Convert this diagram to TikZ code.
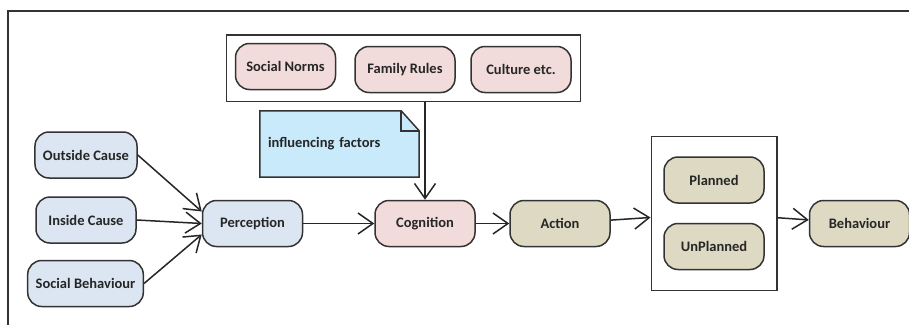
\documentclass[tikz,border=0pt]{standalone}
\usepackage{fontspec}
\setmainfont{Carlito}
\usetikzlibrary{arrows.meta, positioning, fit, calc, backgrounds}
\definecolor{causeblue}{HTML}{DCE6F2}
\definecolor{normpink}{HTML}{F2DCDB}
\definecolor{actolive}{HTML}{DDD9C3}
\definecolor{notecyan}{HTML}{C9EAFB}
\definecolor{edgegray}{HTML}{333333}
\tikzset{
  stage/.style={draw=edgegray, line width=1.5pt, rounded corners=14pt, fill=#1, minimum height=46pt,
    minimum width=100pt, inner xsep=8pt, font=\fontsize{14.5}{16}\selectfont\bfseries, text=black!85},
  group/.style={draw=edgegray, line width=1.5pt},
  note/.style={minimum width=159pt, minimum height=66pt, text width=143pt, inner xsep=8pt, align=left,
    font=\fontsize{14.5}{16}\selectfont\bfseries, text=black!85},
  arr/.style={-{Straight Barb[length=15pt, width=21pt]}, line width=1.5pt, draw=black!85},
}

\begin{document}
\begin{tikzpicture}[x=1pt, y=1pt]
    \useasboundingbox (0,0) rectangle (909,325);
    \draw[line width=1.5pt, edgegray] (909,314) -- (8,314) -- (8,0);
    % causes
    \node[stage=causeblue] (outside) at (86,170) {Outside Cause};
    \node[stage=causeblue] (inside) at (86,105) {Inside Cause};
    \node[stage=causeblue] (social) at (85.5,41.5) {Social Behaviour};
    \node[stage=causeblue] (perception) at (252.5,101.5) {Perception};
    % influencing factors
    \node[stage=normpink] (norms) at (285.5,258.5) {Social Norms};
    \node[stage=normpink] (rules) at (405,255.5) {Family Rules};
    \node[stage=normpink] (culture) at (521,255.5) {Culture etc.};
    \node[group, fit=(norms)(rules)(culture), inner xsep=8.5pt, inner ysep=8pt] (factors) {};
    \node[note] (infl) at (339.5,181) {influencing factors};
    \begin{scope}[on background layer]
      \draw[edgegray, line width=1.5pt, fill=notecyan] (infl.south west) -- (infl.north west)
        -- ([xshift=-18pt]infl.north east) -- ([yshift=-20pt]infl.north east) -- (infl.south east) -- cycle;
      \draw[edgegray, line width=1.5pt] ([xshift=-18pt]infl.north east) |- ([yshift=-20pt]infl.north east);
    \end{scope}
    % chain
    \node[stage=normpink] (cognition) at (425,101.5) {Cognition};
    \node[stage=actolive] (action) at (560,101.5) {Action};
    \node[stage=actolive] (planned) at (714,145) {Planned};
    \node[stage=actolive] (unplanned) at (714,78.5) {UnPlanned};
    \node[group, fit=(planned)(unplanned), inner xsep=12pt, inner ysep=20pt] (choice) {};
    \node[stage=actolive] (behaviour) at (859.5,101.5) {Behaviour};
    % arrows
    \draw[arr] (outside.east) -- ([yshift=12pt]perception.west);
    \draw[arr] (inside.east) -- (perception.west);
    \draw[arr] (social.east) -- ([yshift=-11pt]perception.west);
    \draw[arr] (perception) -- (cognition);
    \draw[arr] (factors.south -| cognition.north) -- (cognition.north);
    \draw[arr] (cognition) -- (action);
    \draw[arr] (action) -- (choice);
    \draw[arr] (choice) -- (behaviour);
\end{tikzpicture}
\end{document}
